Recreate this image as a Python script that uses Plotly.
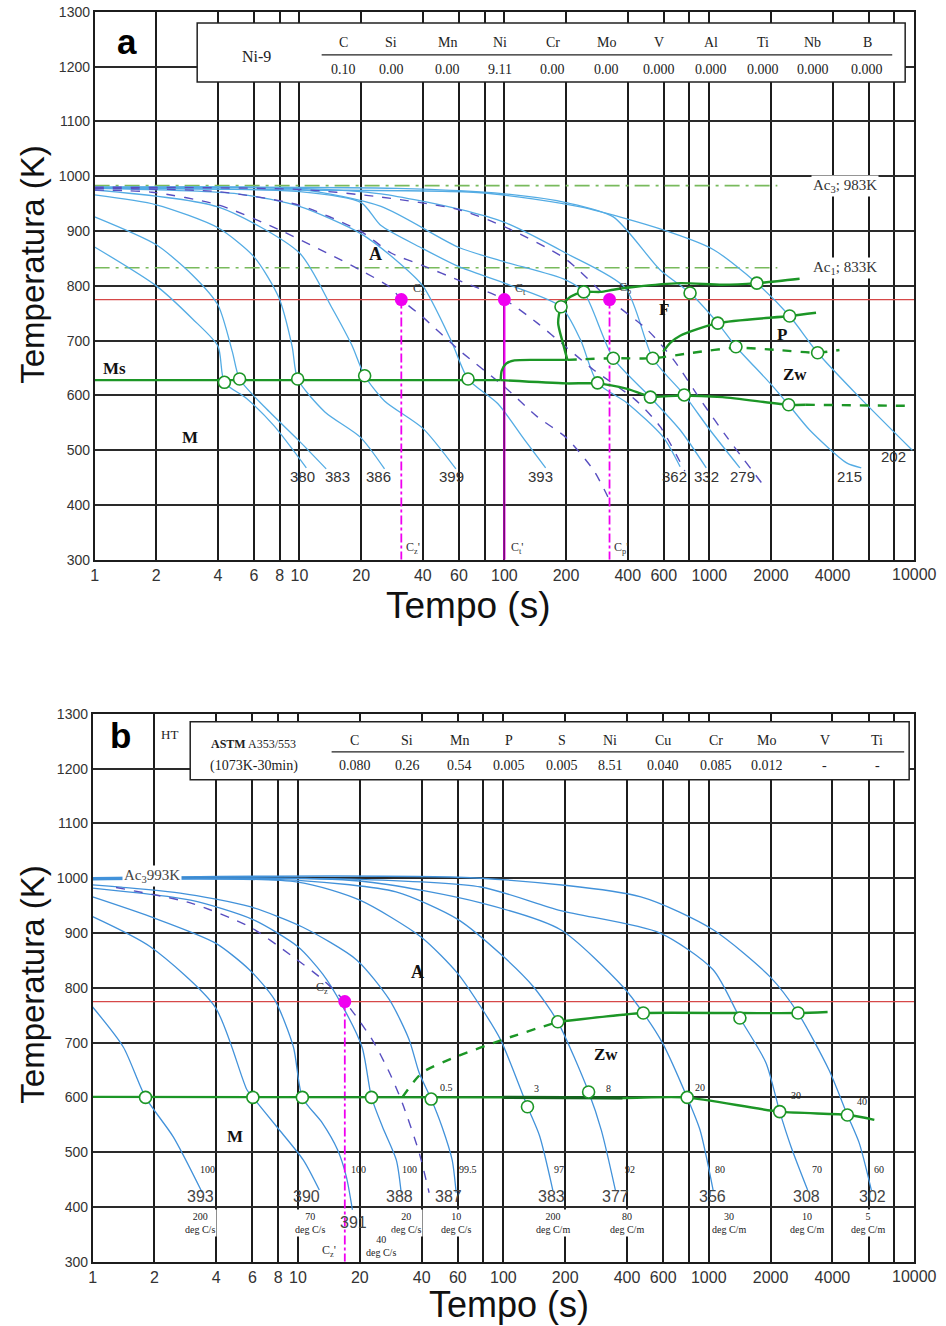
import numpy as np
import plotly.graph_objects as go

W, H = 946, 1326
# calibration between reference pixel positions and figure pixels (measured from earlier renders)
SX, OX = 1.0, 1.0
SY, OY = 0.988, 8.1

# ---------------- axes ----------------
X_LABEL_VALS = [1, 2, 4, 6, 8, 10, 20, 40, 60, 100, 200, 400, 600, 1000, 2000, 4000]
X_LABELS = ['1', '2', '4', '6', '8', '10', '20', '40', '60', '100', '200', '400', '600', '1000',
            '2000', '4000']
X_LAST = 10000
X_LAST_LABEL = '10000'
X_EXTRA_GRID = [80, 800, 6000, 8000, 10000]
Y_TICKS = [300, 400, 500, 600, 700, 800, 900, 1000, 1100, 1200, 1300]

# ---------------- chart a : cooling curves (time s, temperature K) ----------------
A380_t = [1, 2, 3, 4, 4.3, 5.5, 7.5, 10.8]
A380_T = [871, 800, 740, 690, 624, 595, 545, 468]
A383_t = [1, 2, 3, 4, 4.7, 5.1, 6.8, 9.9, 13.5]
A383_T = [926, 875, 820, 765, 680, 630, 578, 518, 466]
A386_t = [1, 2, 4, 6, 7.9, 9.2, 9.8, 13.3, 19.8, 26]
A386_T = [966, 948, 906, 853, 780, 690, 630, 570, 524, 466]
A399_t = [1, 4, 10, 14.3, 18, 20.8, 26, 40, 58]
A399_T = [975, 944, 860, 762, 692, 636, 590, 540, 466]
A393_t = [1, 5, 10, 20, 30, 40, 55, 66.5, 93, 125, 159]
A393_T = [978, 968, 945, 895, 845, 800, 700, 630, 585, 520, 468]
A362_t = [1, 10, 20, 25, 40, 60, 100, 189, 235, 285, 398, 596, 721]
A362_T = [978, 972, 952, 910, 868, 835, 805, 762, 702, 623, 586, 524, 470]
A332_t = [1, 10, 25, 60, 100, 199, 244, 340, 515, 721, 967]
A332_T = [979, 976, 945, 870, 844, 811, 789, 668, 597, 537, 468]
A279_t = [1, 10, 25, 60, 100, 199, 390, 530, 755, 1008, 1410]
A279_T = [980, 978, 968, 940, 916, 860, 796, 668, 601, 537, 468]
A215_t = [1, 30, 100, 200, 340, 576, 806, 1100, 1350, 1973, 2440, 3090, 4680, 5520]
A215_T = [980, 978, 968, 952, 926, 829, 787, 732, 689, 623, 583, 537, 477, 468]
A202_t = [1, 10, 77, 235, 596, 1050, 1707, 2467, 3380, 5400, 9800]
A202_T = [979, 975, 970, 944, 902, 866, 805, 745, 678, 597, 500]

# critical cooling curves (dashed)
AD1_t = [1, 1.9, 4, 8, 19.8, 28, 31.4, 40, 60, 100, 145, 199, 272, 320]
AD1_T = [975, 971, 948, 902, 829, 796, 775, 743, 683, 616, 561, 524, 464, 415]
AD2_t = [1, 4, 10, 20, 28, 40, 60, 100, 145, 199, 272, 436, 576, 760]
AD2_T = [978, 972, 947, 899, 860, 837, 810, 775, 732, 689, 647, 592, 543, 462]
AD3_t = [1, 10, 25, 60, 100, 199, 326, 498, 670, 930, 1220, 1866]
AD3_T = [980, 976, 962, 939, 908, 849, 775, 720, 665, 586, 524, 433]

# transformation lines
A_MS_t = [1, 96]
A_MS_T = [628, 628]
A_ZWF_t = [96, 200, 281, 398, 516, 721, 1160, 2467, 2960]
A_ZWF_T = [628, 622, 622, 612, 598, 600, 597, 583, 583]
A_ZWF_DASH_t = [2960, 9850]
A_ZWF_DASH_T = [583, 581]
A_ZWS_t = [96, 97, 102, 112, 150, 203]
A_ZWS_T = [628, 645, 658, 664, 665, 665]
A_ZWS_DASH_t = [203, 340, 530, 833, 1350, 2140, 3380, 4320]
A_ZWS_DASH_T = [665, 668, 668, 678, 687, 683, 678, 683]
A_FS_t = [203, 193, 183, 189, 210, 244, 294, 340, 427, 721, 1160, 1707, 2760]
A_FS_T = [665, 696, 732, 762, 780, 789, 789, 793, 798, 805, 802, 805, 813]
A_PS_t = [596, 645, 721, 1100, 2467, 3320]
A_PS_T = [680, 696, 709, 732, 745, 751]

A_CIRC_t = [4.3, 5.1, 9.8, 20.8, 66.5, 189, 244, 806, 1707, 1100, 2467,
            340, 530, 1350, 3380, 285, 516, 755, 2440]
A_CIRC_T = [624, 630, 630, 636, 630, 762, 789, 787, 805, 732, 745,
            668, 668, 689, 678, 623, 597, 601, 583]

A_AC3 = 983
A_AC1 = 833
A_RED = 775
A_CRIT_t = [31.4, 100, 326]   # Cz, Ct, Cp
A_CRIT_T = [775, 775, 775]

A_HV = ['380', '383', '386', '399', '393', '362', '332', '279', '215']
A_HV_t = [10.3, 15.3, 24.2, 55, 150, 680, 965, 1450, 4810]

A_ELEM = ['C', 'Si', 'Mn', 'Ni', 'Cr', 'Mo', 'V', 'Al', 'Ti', 'Nb', 'B']
A_COMP = ['0.10', '0.00', '0.00', '9.11', '0.00', '0.00', '0.000', '0.000', '0.000', '0.000', '0.000']

# ---------------- chart b ----------------
B393_t = [1, 1.41, 1.81, 2.47, 3.42]
B393_T = [765, 692, 600, 528, 426]
B390_t = [1, 1.91, 3.95, 5.64, 6.03, 7.9, 10.6, 12.7]
B390_T = [930, 875, 765, 614, 600, 546, 486, 431]
B391_t = [1, 1.91, 3.95, 5.8, 7.7, 9.5, 10.5, 13.1, 15.6, 17.2, 18.4]
B391_T = [966, 930, 882, 833, 778, 692, 600, 554, 504, 455, 395]
B388_t = [1, 3, 6, 10, 13.2, 16.4, 20.5, 22.8, 25.8, 30.1, 31.8]
B388_T = [982, 960, 925, 875, 825, 768, 692, 600, 546, 486, 426]
B387_t = [1, 2.67, 5.84, 10.5, 19.3, 27.9, 34.8, 38.9, 44.5, 50.3, 56.3, 58.9]
B387_T = [988, 973, 948, 911, 851, 778, 705, 645, 597, 546, 486, 426]
B383_t = [1, 10, 20, 40, 60, 77.7, 97, 131, 150, 174]
B383_T = [997, 993, 960, 892, 826, 765, 705, 583, 530, 431]
B377_t = [1, 10, 30, 60, 100, 140, 184, 260, 300, 351]
B377_T = [998, 996, 975, 925, 857, 802, 738, 610, 540, 431]
B356_t = [1, 20, 77.7, 190, 382, 480, 594, 785, 906, 1050]
B356_T = [999, 995, 955, 906, 802, 754, 700, 600, 541, 431]
B308_t = [1, 20, 77.7, 190, 580, 1050, 1418, 1900, 2215, 2515, 3030]
B308_T = [1000, 998, 984, 941, 900, 833, 745, 663, 574, 510, 431]
B302_t = [1, 77.7, 467, 1050, 1990, 2720, 3850, 4730, 5400, 6190]
B302_T = [1001, 1000, 966, 906, 820, 754, 650, 568, 517, 431]

BD_t = [1.3, 2.99, 5.84, 9.43, 13.2, 16.9, 23, 27.9, 32.2, 38.9, 43.5]
BD_T = [983, 955, 911, 857, 815, 775, 705, 645, 590, 499, 426]

B_ZWF_t = [1, 100, 382, 767, 2215, 4840, 6400]
B_ZWF_T = [601, 600, 599, 600, 574, 568, 559]
B_ZWF_BOLD_t = [100, 380]
B_ZWF_BOLD_T = [600, 599]
B_ZWS_DASH_t = [32.3, 40.2, 58.8, 98.5, 184]
B_ZWS_DASH_T = [601, 645, 674, 705, 738]
B_ZWS_t = [184, 382, 479, 1418, 2720, 3790]
B_ZWS_T = [738, 751, 754, 754, 754, 756]

B_CIRC_t = [1.81, 6.03, 10.5, 22.8, 44.5, 131, 260, 785, 2215, 4730, 184, 480, 1418, 2720]
B_CIRC_T = [600, 600, 600, 600, 597, 583, 610, 600, 574, 568, 738, 754, 745, 754]

B_RED = 775
B_CRIT_t = [16.9]
B_CRIT_T = [775]

B_HV = ['393', '390', '388', '387', '383', '377', '356', '308', '302']
B_HV_t = [3.34, 11.0, 31.2, 53.9, 171, 351, 1045, 3000, 6250]
B_PCT = ['100', '100', '100', '99.5', '97', '92', '80', '70', '60']
B_PCT_t = [3.61, 19.6, 34.9, 67, 186, 415, 1140, 3370, 6780]
B_RATE = ['200', '70', '20', '10', '200', '80', '30', '10', '5']
B_RATE_U = ['deg C/s', 'deg C/s', 'deg C/s', 'deg C/s', 'deg C/m', 'deg C/m', 'deg C/m', 'deg C/m', 'deg C/m']
B_RATE_t = [3.34, 11.4, 33.7, 58.7, 175, 401, 1256, 3000, 5940]
B_ZW_PCT = ['0.5', '3', '8', '20', '30', '40']
B_ZW_PCT_t = [52.6, 145, 324, 906, 2660, 5550]
B_ZW_PCT_T = [619, 617, 617, 619, 603, 592]

B_ELEM = ['C', 'Si', 'Mn', 'P', 'S', 'Ni', 'Cu', 'Cr', 'Mo', 'V', 'Ti']
B_COMP = ['0.080', '0.26', '0.54', '0.005', '0.005', '8.51', '0.040', '0.085', '0.012', '-', '-']

# ---------------- styles ----------------
BLUE = 'rgb(84,172,228)'
BLUE_B = 'rgb(66,146,218)'
PURPLE = 'rgb(88,78,192)'
GREEN = 'rgb(28,150,38)'
ACGREEN = 'rgb(120,186,92)'
RED = 'rgb(214,72,72)'
MAG = 'rgb(240,0,240)'
SANS = 'Liberation Sans, Arial, sans-serif'
SERIF = 'Liberation Serif, Times New Roman, serif'

fig = go.Figure()


def line(xa, ya, t, T, color, width=1.3, dash='solid', spline=True):
    fig.add_trace(go.Scatter(
        x=t, y=T, mode='lines', xaxis=xa, yaxis=ya, hoverinfo='skip', showlegend=False,
        line=dict(color=color, width=width, dash=dash,
                  shape='spline' if spline else 'linear', smoothing=0.7)))


def circles(xa, ya, t, T):
    fig.add_trace(go.Scatter(
        x=t, y=T, mode='markers', xaxis=xa, yaxis=ya, hoverinfo='skip', showlegend=False,
        marker=dict(symbol='circle', size=12, color='white', line=dict(color=GREEN, width=1.6))))


# ---- chart a ----
line('x', 'y', [1, 10000], [A_RED, A_RED], RED, 1.3, spline=False)
line('x', 'y', [1, 2150], [A_AC3, A_AC3], ACGREEN, 1.6, 'longdashdot', False)
line('x', 'y', [1, 2150], [A_AC1, A_AC1], ACGREEN, 1.6, 'longdashdot', False)
for t, T in [(A380_t, A380_T), (A383_t, A383_T), (A386_t, A386_T), (A399_t, A399_T),
             (A393_t, A393_T), (A362_t, A362_T), (A332_t, A332_T), (A279_t, A279_T),
             (A215_t, A215_T), (A202_t, A202_T)]:
    line('x', 'y', t, T, BLUE, 1.3)
for t, T in [(AD1_t, AD1_T), (AD2_t, AD2_T), (AD3_t, AD3_T)]:
    line('x', 'y', t, T, PURPLE, 1.4, 'dash')
# critical verticals
line('x', 'y', [A_CRIT_t[0]] * 2, [A_CRIT_T[0], 300], MAG, 1.8, 'dashdot', False)
line('x', 'y', [A_CRIT_t[1]] * 2, [A_CRIT_T[1], 300], MAG, 2.2, 'solid', False)
line('x', 'y', [A_CRIT_t[1]] * 2, [A_MS_T[0], 300], 'rgb(110,20,110)', 1.2, 'solid', False)
line('x', 'y', [A_CRIT_t[2]] * 2, [A_CRIT_T[2], 300], MAG, 1.8, 'dashdot', False)
# transformation lines
line('x', 'y', A_MS_t, A_MS_T, GREEN, 2.4, spline=False)
line('x', 'y', A_ZWF_t, A_ZWF_T, GREEN, 2.4)
line('x', 'y', A_ZWF_DASH_t, A_ZWF_DASH_T, GREEN, 2.4, 'dash', False)
line('x', 'y', A_ZWS_t, A_ZWS_T, GREEN, 2.4)
line('x', 'y', A_ZWS_DASH_t, A_ZWS_DASH_T, GREEN, 2.4, 'dash')
line('x', 'y', A_FS_t, A_FS_T, GREEN, 2.4)
line('x', 'y', A_PS_t, A_PS_T, GREEN, 2.4)
circles('x', 'y', A_CIRC_t, A_CIRC_T)
fig.add_trace(go.Scatter(x=A_CRIT_t, y=A_CRIT_T, mode='markers', xaxis='x', yaxis='y', hoverinfo='skip',
                         showlegend=False, marker=dict(size=13, color=MAG)))

# ---- chart b ----
line('x2', 'y2', [1, 10000], [B_RED, B_RED], RED, 1.3, spline=False)
for t, T in [(B393_t, B393_T), (B390_t, B390_T), (B391_t, B391_T), (B388_t, B388_T),
             (B387_t, B387_T), (B383_t, B383_T), (B377_t, B377_T), (B356_t, B356_T),
             (B308_t, B308_T), (B302_t, B302_T)]:
    line('x2', 'y2', t, T, BLUE_B, 1.3)
line('x2', 'y2', BD_t, BD_T, PURPLE, 1.4, 'dash')
line('x2', 'y2', [B_CRIT_t[0]] * 2, [B_CRIT_T[0], 300], MAG, 1.8, 'dashdot', False)
line('x2', 'y2', B_ZWF_t, B_ZWF_T, GREEN, 2.4)
line('x2', 'y2', B_ZWF_BOLD_t, B_ZWF_BOLD_T, 'rgb(20,100,30)', 3.2, spline=False)
line('x2', 'y2', B_ZWS_DASH_t, B_ZWS_DASH_T, GREEN, 2.4, 'dash')
line('x2', 'y2', B_ZWS_t, B_ZWS_T, GREEN, 2.4)
circles('x2', 'y2', B_CIRC_t, B_CIRC_T)
fig.add_trace(go.Scatter(x=B_CRIT_t, y=B_CRIT_T, mode='markers', xaxis='x2', yaxis='y2', hoverinfo='skip',
                         showlegend=False, marker=dict(size=13, color=MAG)))

# ---------------- annotations ----------------
ann = []


def txt(xa, ya, t, T, text, size=14, family=SANS, color='#222', bg=None, xanchor='center'):
    d = dict(xref=xa, yref=ya, x=float(np.log10(t)), y=T, text=text, showarrow=False,
             font=dict(size=size, family=family, color=color), xanchor=xanchor, yanchor='middle')
    if bg:
        d['bgcolor'] = bg
        d['borderpad'] = 1
    ann.append(d)


def px_x(px):
    return ((px - OX) / SX) / W


def px_y(py):
    return 1 - ((py - OY) / SY) / H


def ptxt(px, py, text, size=13, family=SERIF, color='#222', xanchor='center', angle=0):
    ann.append(dict(xref='paper', yref='paper', x=px_x(px), y=px_y(py), text=text, showarrow=False,
                    font=dict(size=size, family=family, color=color), xanchor=xanchor, yanchor='middle',
                    textangle=angle))


# chart a labels
txt('x', 'y', 23.5, 858, '<b>A</b>', 18, SERIF, '#111')
txt('x', 'y', 1.25, 650, '<b>Ms</b>', 17, SERIF, '#111')
txt('x', 'y', 2.93, 524, '<b>M</b>', 17, SERIF, '#111')
txt('x', 'y', 600, 756, '<b>F</b>', 17, SERIF, '#111')
txt('x', 'y', 2270, 711, '<b>P</b>', 17, SERIF, '#111')
txt('x', 'y', 2620, 638, '<b>Zw</b>', 17, SERIF, '#111')
txt('x', 'y', 38.5, 794, 'C<sub>z</sub>', 12, SERIF, '#333')
txt('x', 'y', 120, 794, 'C<sub>t</sub>', 12, SERIF, '#333')
txt('x', 'y', 388, 796, 'C<sub>p</sub>', 12, SERIF, '#333')
txt('x', 'y', 36, 322, "C<sub>z</sub>'", 12, SERIF, '#333')
txt('x', 'y', 116, 322, "C<sub>t</sub>'", 12, SERIF, '#333')
txt('x', 'y', 372, 322, "C<sub>p</sub>'", 12, SERIF, '#333')
txt('x', 'y', 4580, A_AC3, 'Ac<sub>3</sub>; 983K', 15, SERIF, '#333', bg='white')
txt('x', 'y', 4580, A_AC1, 'Ac<sub>1</sub>; 833K', 15, SERIF, '#333', bg='white')
for s, t in zip(A_HV, A_HV_t):
    txt('x', 'y', t, 452, s, 15, SANS, '#333')
txt('x', 'y', 7900, 488, '202', 15, SANS, '#333')

# chart b labels
txt('x2', 'y2', 38.1, 829, '<b>A</b>', 18, SERIF, '#111')
txt('x2', 'y2', 4.94, 528, '<b>M</b>', 17, SERIF, '#111')
txt('x2', 'y2', 317, 678, '<b>Zw</b>', 17, SERIF, '#111')
txt('x2', 'y2', 13.1, 800, 'C<sub>z</sub>', 12, SERIF, '#333')
txt('x2', 'y2', 14.1, 320, "C<sub>z</sub>'", 12, SERIF, '#333')
txt('x2', 'y2', 1.95, 1004, 'Ac<sub>3</sub>993K', 15, SERIF, '#444', bg='white')
for s, t in zip(B_HV, B_HV_t):
    txt('x2', 'y2', t, 420, s, 16, SANS, '#444')
txt('x2', 'y2', 18.6, 371, '391', 16, SANS, '#444')
for s, t in zip(B_PCT, B_PCT_t):
    txt('x2', 'y2', t, 468, s, 10, SERIF, '#222')
for s, t, T in zip(B_ZW_PCT, B_ZW_PCT_t, B_ZW_PCT_T):
    txt('x2', 'y2', t, T, s, 10, SERIF, '#222')
for s, u, t in zip(B_RATE, B_RATE_U, B_RATE_t):
    txt('x2', 'y2', t, 371, s + '<br>' + u, 10, SERIF, '#222', bg='white')
txt('x2', 'y2', 25.5, 329, '40<br>deg C/s', 10, SERIF, '#222', bg='white')

# last x tick label drawn as an annotation (kept inside the page)
for xa, ya in [('x', 'y'), ('x2', 'y2')]:
    ann.append(dict(xref=xa, yref=ya, x=float(np.log10(X_LAST)), y=300, text=X_LAST_LABEL, showarrow=False,
                    font=dict(size=16, family=SANS, color='#333'), xanchor='center', yanchor='top', yshift=-4))

# panel letters, tables, axis titles
ptxt(125, 42, '<b>a</b>', 35, SANS, '#000')
ptxt(118, 736, '<b>b</b>', 35, SANS, '#000')
ptxt(167, 735, 'HT', 13, SERIF, '#222')


def prect(x0, y0, x1, y1):
    return dict(type='rect', xref='paper', yref='paper', x0=px_x(x0), x1=px_x(x1), y0=px_y(y1), y1=px_y(y0),
                fillcolor='white', line=dict(color='#222', width=1.5), layer='above')


def pline(x0, x1, y):
    return dict(type='line', xref='paper', yref='paper', x0=px_x(x0), x1=px_x(x1), y0=px_y(y), y1=px_y(y),
                line=dict(color='#222', width=1.3), layer='above')


shapes = [prect(195, 23, 906, 82), pline(320, 893, 55), prect(188, 722, 910, 780), pline(330, 905, 752)]

ptxt(255, 57, 'Ni-9', 16)
A_COL_X = [342, 390, 446, 499, 552, 606, 659, 711, 763, 813, 868]
for e, v, px in zip(A_ELEM, A_COMP, A_COL_X):
    ptxt(px, 43, e, 14)
    ptxt(px, 70, v, 14)
ptxt(252, 744, '<b>ASTM</b> A353/553', 12)
ptxt(252, 766, '(1073K-30min)', 14)
B_COL_X = [353, 406, 458, 508, 561, 610, 663, 716, 767, 825, 878]
for e, v, px in zip(B_ELEM, B_COMP, B_COL_X):
    ptxt(px, 741, e, 14)
    ptxt(px, 766, v, 14)

ptxt(30, 265, 'Temperatura (K)', 33, SANS, '#111', angle=-90)
ptxt(30, 985, 'Temperatura (K)', 33, SANS, '#111', angle=-90)
ptxt(467, 606, 'Tempo (s)', 37, SANS, '#111')
ptxt(508, 1305, 'Tempo (s)', 36, SANS, '#111')


# ---------------- layout ----------------
def xaxis(x0, x1, anchor):
    return dict(domain=[px_x(x0), px_x(x1)], anchor=anchor, type='log', range=[0, 4],
                tickvals=X_LABEL_VALS, ticktext=X_LABELS,
                showgrid=True, gridcolor='#1c1c1c', gridwidth=1.5, showline=True, mirror=True,
                linecolor='#1c1c1c', linewidth=1.6, ticks='', zeroline=False, fixedrange=True,
                minor=dict(tickvals=X_EXTRA_GRID, showgrid=True, gridcolor='#1c1c1c', gridwidth=1.5, ticks=''),
                tickfont=dict(family=SANS, size=16, color='#333'))


def yaxis(ytop, ybot, anchor):
    return dict(domain=[px_y(ybot), px_y(ytop)], anchor=anchor, range=[300, 1300], tickvals=Y_TICKS,
                showgrid=True, gridcolor='#2a2a2a', gridwidth=1.7, showline=True, mirror=True,
                linecolor='#1c1c1c', linewidth=1.6, ticks='', zeroline=False, fixedrange=True,
                tickfont=dict(family=SANS, size=14, color='#333'))


fig.update_layout(
    width=W, height=H, margin=dict(l=0, r=0, t=0, b=0),
    paper_bgcolor='white', plot_bgcolor='white', showlegend=False,
    xaxis=xaxis(92, 915, 'y'),
    yaxis=yaxis(12, 560, 'x'),
    xaxis2=xaxis(90, 915, 'y2'),
    yaxis2=yaxis(714, 1262, 'x2'),
    annotations=ann, shapes=shapes,
)

fig.write_html("out.html")
